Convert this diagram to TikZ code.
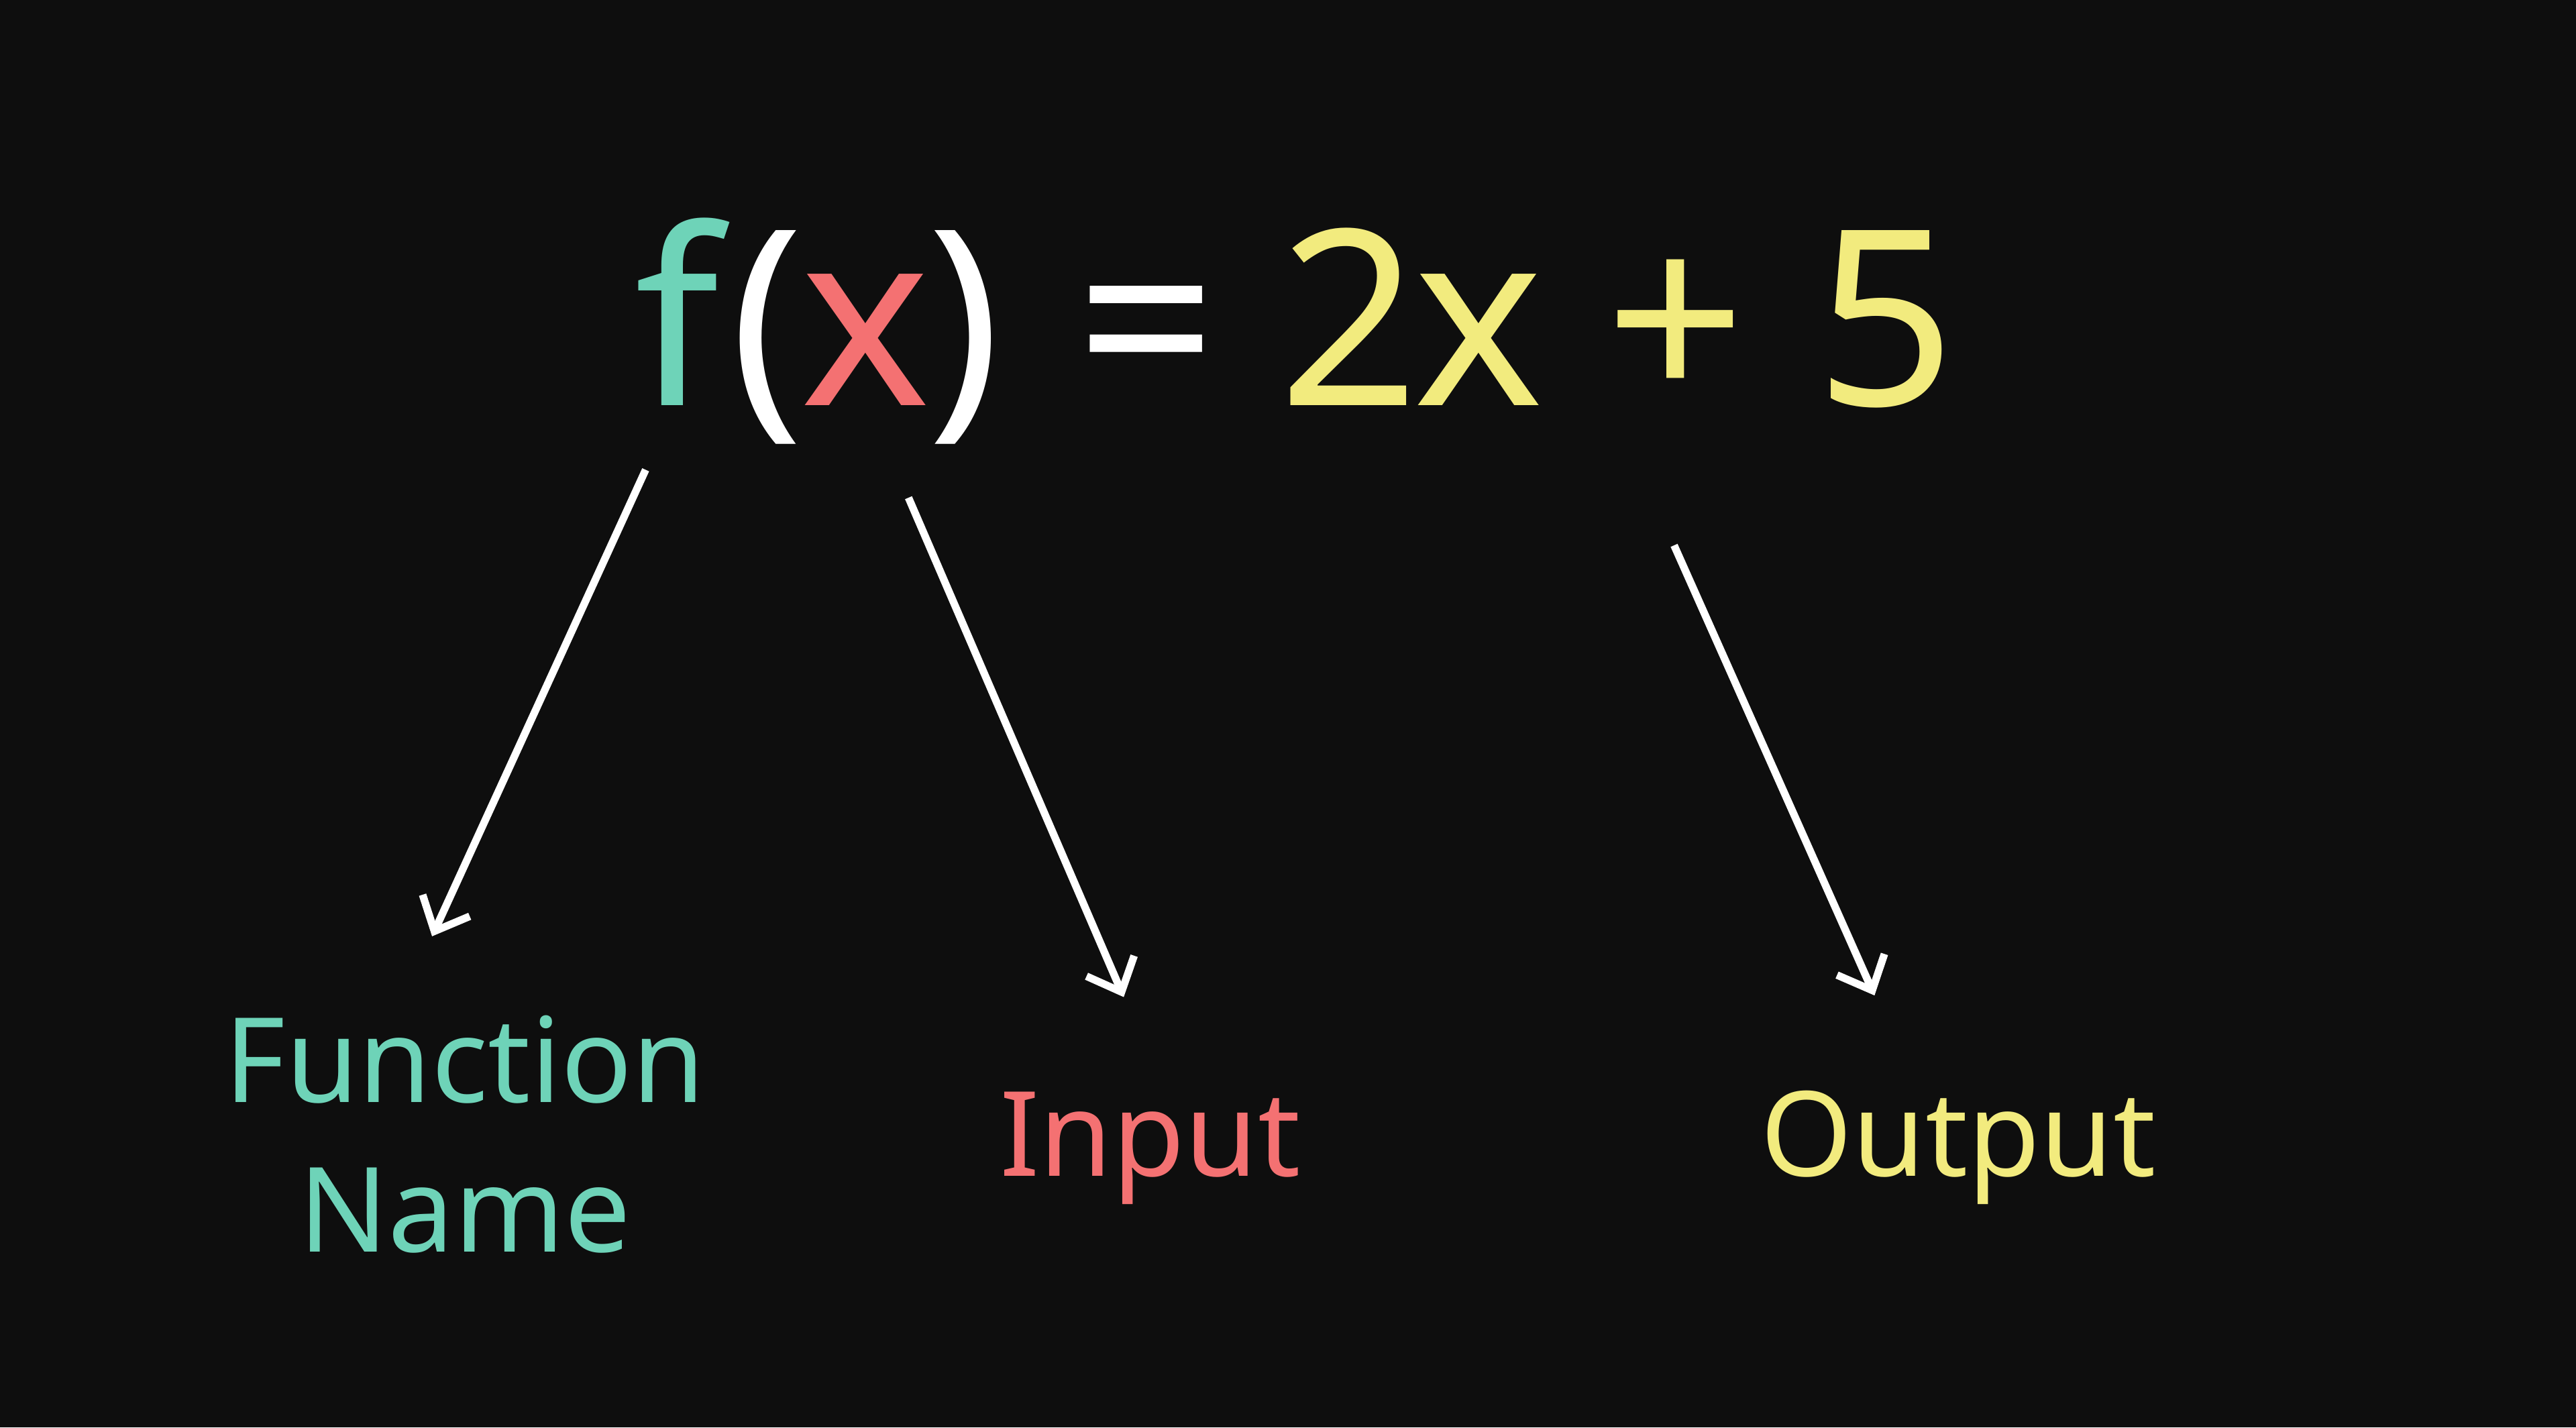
\documentclass[tikz,border=0pt]{standalone}
\usepackage{fontspec}
\setmainfont{Noto Sans}
\usetikzlibrary{arrows.meta}
\definecolor{bg}{HTML}{0E0E0E}
\definecolor{cteal}{HTML}{6ED3B8}
\definecolor{cred}{HTML}{F47172}
\definecolor{cyel}{HTML}{F2EB7E}
\begin{document}
\begin{tikzpicture}[x=0.02449cm,y=-0.02449cm,
  arr/.style={draw=white,line width=3.2pt,-{Straight Barb[length=12pt,width=22pt,line width=3.2pt]}},
  eqc/.style={anchor=base,inner sep=0,font=\fontsize{104}{120}\selectfont},
  lbl/.style={font=\fontsize{50}{60}\selectfont,align=center,anchor=base}]
\fill[bg] (0,0) rectangle (1568,869);
\useasboundingbox (0,0) rectangle (1568,869);
\node[eqc,text=cteal] (f) at (412,247) {f};
\node[eqc,text=white] (lp) at (467,247) {(};
\node[eqc,text=cred] (x1) at (527,247) {x};
\node[eqc,text=white] (rp) at (587,247) {)};
\node[eqc,text=white] (eqs) at (698,247) {=};
\node[eqc,text=cyel] (two) at (821,247) {2};
\node[eqc,text=cyel] (x2) at (900,247) {x};
\node[eqc,text=cyel] (plus) at (1020,247) {+};
\node[eqc,text=cyel] (five) at (1148,247) {5};
\node[lbl,text=cteal] (fn) at (283,671) {Function};
\node[lbl,text=cteal] (nm) at (283,762) {Name};
\node[lbl,text=cred] (in) at (700,716) {Input};
\node[lbl,text=cyel] (out) at (1192,716) {Output};
\coordinate (a1) at (393,286); \coordinate (b1) at (263,570);
\coordinate (a2) at (553,303); \coordinate (b2) at (684,607);
\coordinate (a3) at (1019,332); \coordinate (b3) at (1141,606);
\draw[arr] (a1) -- (b1);
\draw[arr] (a2) -- (b2);
\draw[arr] (a3) -- (b3);
\end{tikzpicture}
\end{document}
